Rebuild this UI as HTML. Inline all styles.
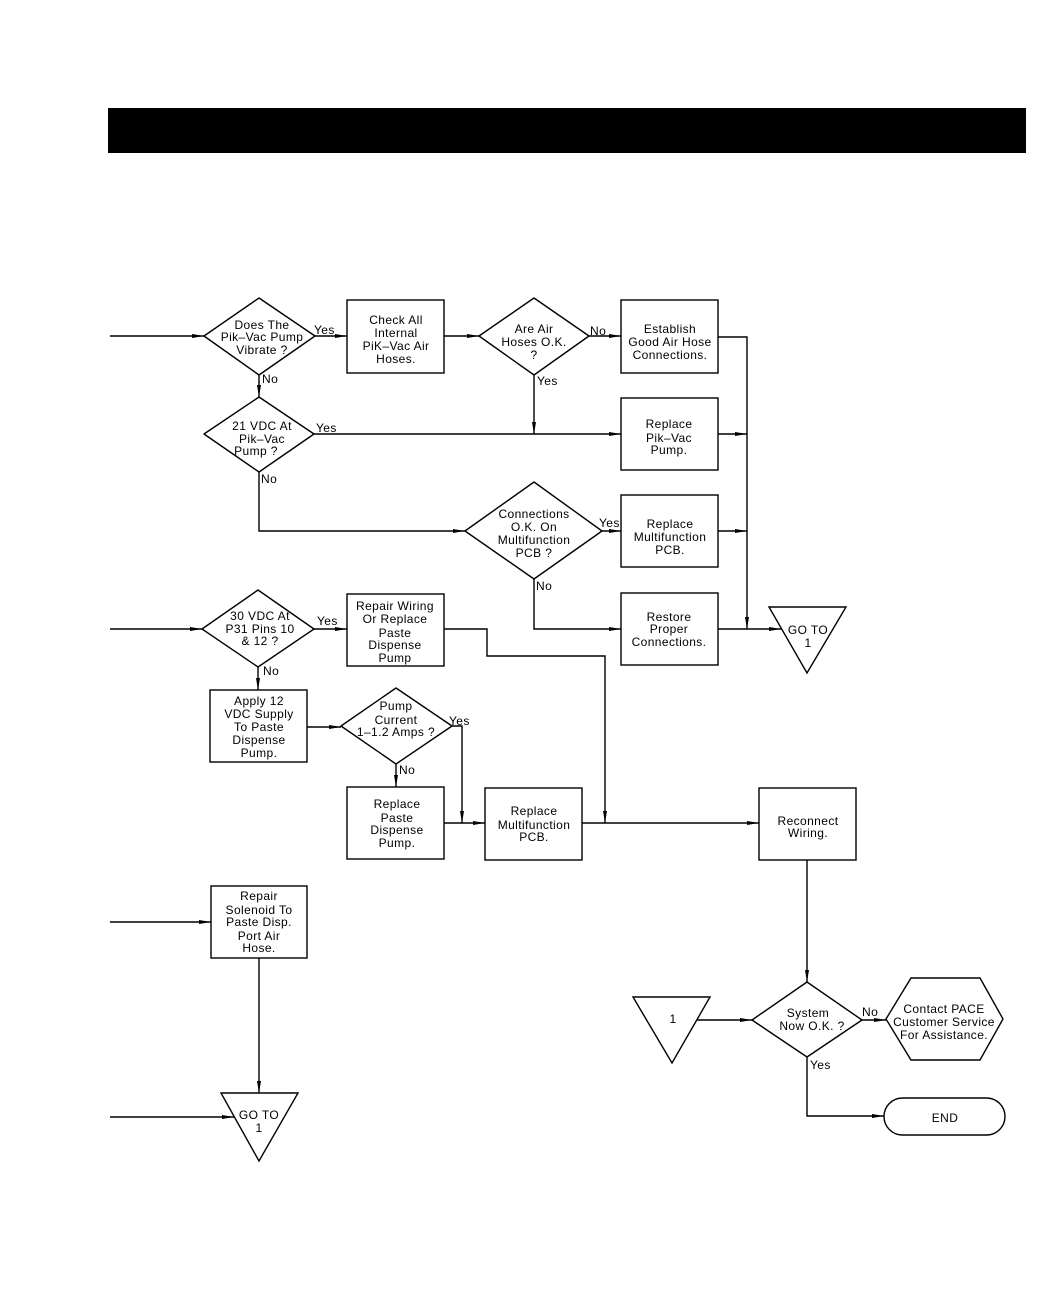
<!DOCTYPE html>
<html><head><meta charset="utf-8">
<style>
html,body{margin:0;padding:0;background:#fff;}
svg{display:block;}
text{font-family:"Liberation Sans",sans-serif;font-size:12px;fill:#000;text-anchor:middle;letter-spacing:0.4px;}
.l{text-anchor:start;}
</style></head><body>
<svg width="1062" height="1296" viewBox="0 0 1062 1296" xmlns="http://www.w3.org/2000/svg">
<defs>
<marker id="a" markerWidth="12" markerHeight="6" refX="12" refY="3" orient="auto" markerUnits="userSpaceOnUse">
<path d="M0,1 L12,3 L0,5 z" fill="#000"/></marker>
</defs>
<rect x="108" y="108" width="918" height="45" fill="#000"/>
<g fill="none" stroke="#000" stroke-width="1.4">
<!-- shapes -->
<polygon points="204,336 259,298 315,336 259,375" stroke-linejoin="round"/>
<rect x="347" y="300" width="97" height="73"/>
<polygon points="479,336 534,298 589,336 534,375" stroke-linejoin="round"/>
<rect x="621" y="300" width="97" height="73"/>
<polygon points="204,434 259,397 314,434 259,472" stroke-linejoin="round"/>
<rect x="621" y="398" width="97" height="72"/>
<polygon points="465,531 534,482 602,531 534,579" stroke-linejoin="round"/>
<rect x="621" y="495" width="97" height="72"/>
<rect x="621" y="593" width="97" height="72"/>
<polygon points="769,607 846,607 807,673"/>
<polygon points="202,629 258,590 314,629 258,667" stroke-linejoin="round"/>
<rect x="347" y="594" width="97" height="72"/>
<rect x="210" y="690" width="97" height="72"/>
<polygon points="341,726 396,688 452,726 396,764" stroke-linejoin="round"/>
<rect x="347" y="787" width="97" height="72"/>
<rect x="485" y="788" width="97" height="72"/>
<rect x="759" y="788" width="97" height="72"/>
<rect x="211" y="886" width="96" height="72"/>
<polygon points="221,1093 298,1093 259,1161"/>
<polygon points="633,997 710,997 672,1063"/>
<polygon points="752,1020 807,982 862,1020 807,1057" stroke-linejoin="round"/>
<polygon points="886,1019 911,978 980,978 1003,1019 980,1060 911,1060"/>
<rect x="884" y="1098" width="121" height="37" rx="18.5"/>
<!-- connectors -->
<line x1="110" y1="336" x2="204" y2="336" marker-end="url(#a)"/>
<line x1="315" y1="336" x2="347" y2="336" marker-end="url(#a)"/>
<line x1="444" y1="336" x2="479" y2="336" marker-end="url(#a)"/>
<line x1="589" y1="336" x2="621" y2="336" marker-end="url(#a)"/>
<polyline points="718,337 747,337 747,629" marker-end="url(#a)"/>
<line x1="259" y1="375" x2="259" y2="397" marker-end="url(#a)"/>
<line x1="314" y1="434" x2="621" y2="434" marker-end="url(#a)"/>
<line x1="534" y1="375" x2="534" y2="434" marker-end="url(#a)"/>
<line x1="718" y1="434" x2="747" y2="434" marker-end="url(#a)"/>
<polyline points="259,472 259,531 465,531" marker-end="url(#a)"/>
<line x1="602" y1="531" x2="621" y2="531" marker-end="url(#a)"/>
<line x1="718" y1="531" x2="747" y2="531" marker-end="url(#a)"/>
<polyline points="534,579 534,629 621,629" marker-end="url(#a)"/>
<line x1="718" y1="629" x2="781" y2="629" marker-end="url(#a)"/>
<line x1="110" y1="629" x2="202" y2="629" marker-end="url(#a)"/>
<line x1="314" y1="629" x2="347" y2="629" marker-end="url(#a)"/>
<polyline points="444,629 487,629 487,656 605,656 605,823" marker-end="url(#a)"/>
<line x1="258" y1="667" x2="258" y2="690" marker-end="url(#a)"/>
<line x1="307" y1="727" x2="341" y2="727" marker-end="url(#a)"/>
<polyline points="452,726 462,726 462,823" marker-end="url(#a)"/>
<line x1="396" y1="764" x2="396" y2="787" marker-end="url(#a)"/>
<line x1="444" y1="823" x2="485" y2="823" marker-end="url(#a)"/>
<line x1="582" y1="823" x2="759" y2="823" marker-end="url(#a)"/>
<line x1="807" y1="860" x2="807" y2="982" marker-end="url(#a)"/>
<line x1="110" y1="922" x2="211" y2="922" marker-end="url(#a)"/>
<line x1="259" y1="958" x2="259" y2="1093" marker-end="url(#a)"/>
<line x1="110" y1="1117" x2="234" y2="1117" marker-end="url(#a)"/>
<line x1="697" y1="1020" x2="752" y2="1020" marker-end="url(#a)"/>
<line x1="862" y1="1020" x2="886" y2="1020" marker-end="url(#a)"/>
<polyline points="807,1057 807,1116 884,1116" marker-end="url(#a)"/>
</g>
<!-- text -->
<text x="262" y="329">Does The</text><text x="262" y="341">Pik–Vac Pump</text><text x="262" y="354">Vibrate ?</text>
<text class="l" x="314" y="334">Yes</text><text class="l" x="262" y="383">No</text>
<text x="396" y="324">Check All</text><text x="396" y="337">Internal</text><text x="396" y="350">PiK–Vac Air</text><text x="396" y="363">Hoses.</text>
<text x="534" y="333">Are Air</text><text x="534" y="346">Hoses O.K.</text><text x="534" y="359">?</text>
<text class="l" x="590" y="335">No</text><text class="l" x="537" y="385">Yes</text>
<text x="670" y="333">Establish</text><text x="670" y="346">Good Air Hose</text><text x="670" y="359">Connections.</text>
<text x="262" y="430">21 VDC At</text><text x="262" y="443">Pik–Vac</text><text x="256" y="455">Pump ?</text>
<text class="l" x="316" y="432">Yes</text><text class="l" x="261" y="483">No</text>
<text x="669" y="428">Replace</text><text x="669" y="442">Pik–Vac</text><text x="669" y="454">Pump.</text>
<text x="534" y="518">Connections</text><text x="534" y="531">O.K. On</text><text x="534" y="544">Multifunction</text><text x="534" y="557">PCB ?</text>
<text class="l" x="599" y="527">Yes</text><text class="l" x="536" y="590">No</text>
<text x="670" y="528">Replace</text><text x="670" y="541">Multifunction</text><text x="670" y="554">PCB.</text>
<text x="669" y="621">Restore</text><text x="669" y="633">Proper</text><text x="669" y="646">Connections.</text>
<text x="808" y="634">GO TO</text><text x="808" y="647">1</text>
<text x="260" y="620">30 VDC At</text><text x="260" y="633">P31 Pins 10</text><text x="260" y="645">&amp; 12 ?</text>
<text class="l" x="317" y="625">Yes</text><text class="l" x="263" y="675">No</text>
<text x="395" y="610">Repair Wiring</text><text x="395" y="623">Or Replace</text><text x="395" y="637">Paste</text><text x="395" y="649">Dispense</text><text x="395" y="662">Pump</text>
<text x="259" y="705">Apply 12</text><text x="259" y="718">VDC Supply</text><text x="259" y="731">To Paste</text><text x="259" y="744">Dispense</text><text x="259" y="757">Pump.</text>
<text x="396" y="710">Pump</text><text x="396" y="724">Current</text><text x="396" y="736">1–1.2 Amps ?</text>
<text class="l" x="449" y="725">Yes</text><text class="l" x="399" y="774">No</text>
<text x="397" y="808">Replace</text><text x="397" y="822">Paste</text><text x="397" y="834">Dispense</text><text x="397" y="847">Pump.</text>
<text x="534" y="815">Replace</text><text x="534" y="829">Multifunction</text><text x="534" y="841">PCB.</text>
<text x="808" y="825">Reconnect</text><text x="808" y="837">Wiring.</text>
<text x="259" y="900">Repair</text><text x="259" y="914">Solenoid To</text><text x="259" y="926">Paste Disp.</text><text x="259" y="940">Port Air</text><text x="259" y="952">Hose.</text>
<text x="259" y="1119">GO TO</text><text x="259" y="1132">1</text>
<text x="673" y="1023">1</text>
<text x="808" y="1017">System</text><text x="812" y="1030">Now O.K. ?</text>
<text class="l" x="862" y="1016">No</text><text class="l" x="810" y="1069">Yes</text>
<text x="944" y="1013">Contact PACE</text><text x="944" y="1026">Customer Service</text><text x="944" y="1039">For Assistance.</text>
<text x="945" y="1122">END</text>
</svg>
</body></html>
